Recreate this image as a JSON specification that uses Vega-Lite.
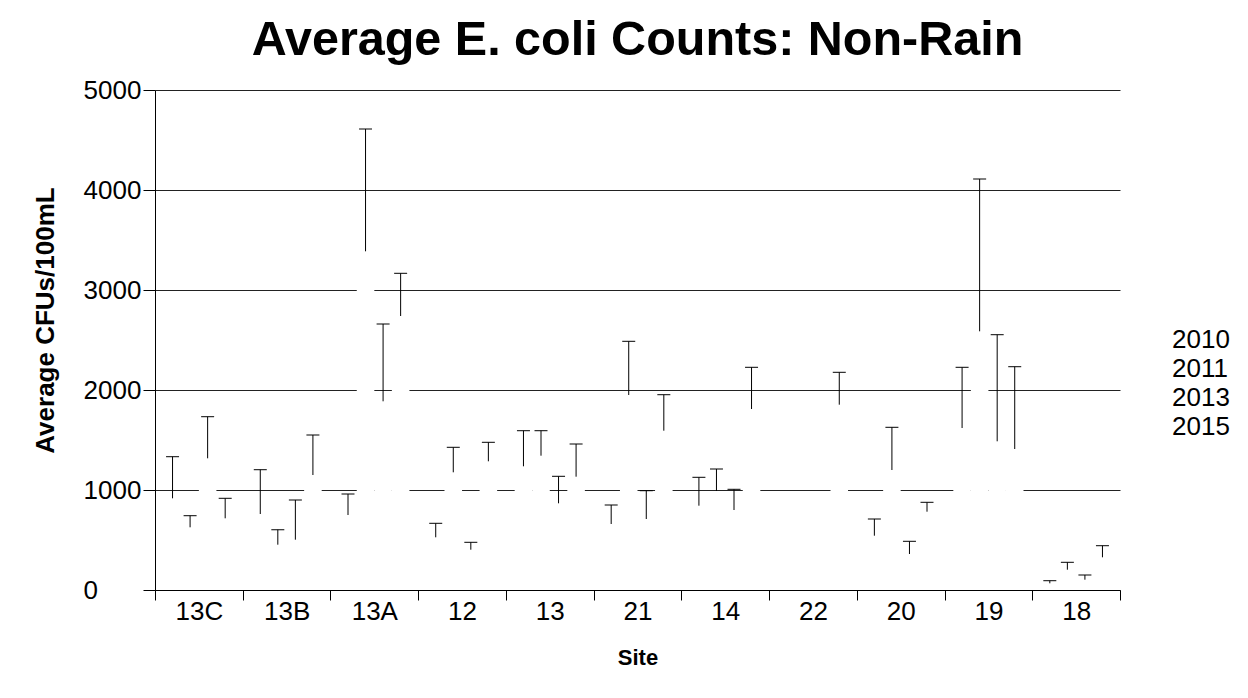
{
  "$schema": "https://vega.github.io/schema/vega-lite/v6.json",
  "width": 965,
  "height": 500,
  "autosize": {"type": "none"},
  "padding": {"left": 155, "top": 90, "right": 128, "bottom": 108},
  "background": "white",
  "config": {
    "view": {"stroke": null},
    "font": "Liberation Sans"
  },
  "title": {
    "text": "Average E. coli Counts: Non-Rain",
    "font": "Liberation Sans",
    "fontSize": 48.5,
    "fontWeight": "bold",
    "color": "black",
    "anchor": "middle",
    "offset": 12
  },
  "data": {
    "values": [
      {"site": "13C", "year": "2010", "lo": 917, "hi": 1333},
      {"site": "13C", "year": "2011", "lo": 627, "hi": 743},
      {"site": "13C", "year": "2013", "lo": 1317, "hi": 1733},
      {"site": "13C", "year": "2015", "lo": 717, "hi": 917},
      {"site": "13B", "year": "2010", "lo": 760, "hi": 1203},
      {"site": "13B", "year": "2011", "lo": 453, "hi": 603},
      {"site": "13B", "year": "2013", "lo": 503, "hi": 900},
      {"site": "13B", "year": "2015", "lo": 1150, "hi": 1550},
      {"site": "13A", "year": "2010", "lo": 750, "hi": 960},
      {"site": "13A", "year": "2011", "lo": 3387, "hi": 4610},
      {"site": "13A", "year": "2013", "lo": 1887, "hi": 2660},
      {"site": "13A", "year": "2015", "lo": 2740, "hi": 3167},
      {"site": "12", "year": "2010", "lo": 527, "hi": 667},
      {"site": "12", "year": "2011", "lo": 1177, "hi": 1427},
      {"site": "12", "year": "2013", "lo": 403, "hi": 477},
      {"site": "12", "year": "2015", "lo": 1287, "hi": 1477},
      {"site": "13", "year": "2010", "lo": 1237, "hi": 1593},
      {"site": "13", "year": "2011", "lo": 1343, "hi": 1593},
      {"site": "13", "year": "2013", "lo": 867, "hi": 1137},
      {"site": "13", "year": "2015", "lo": 1133, "hi": 1460},
      {"site": "21", "year": "2010", "lo": 660, "hi": 850},
      {"site": "21", "year": "2011", "lo": 1950, "hi": 2487},
      {"site": "21", "year": "2013", "lo": 710, "hi": 993},
      {"site": "21", "year": "2015", "lo": 1593, "hi": 1953},
      {"site": "14", "year": "2010", "lo": 843, "hi": 1127},
      {"site": "14", "year": "2011", "lo": 990, "hi": 1210},
      {"site": "14", "year": "2013", "lo": 800, "hi": 1007},
      {"site": "14", "year": "2015", "lo": 1810, "hi": 2227},
      {"site": "22", "year": "2015", "lo": 1853, "hi": 2177},
      {"site": "20", "year": "2010", "lo": 543, "hi": 710},
      {"site": "20", "year": "2011", "lo": 1200, "hi": 1627},
      {"site": "20", "year": "2013", "lo": 360, "hi": 487},
      {"site": "20", "year": "2015", "lo": 783, "hi": 877},
      {"site": "19", "year": "2010", "lo": 1620, "hi": 2227},
      {"site": "19", "year": "2011", "lo": 2587, "hi": 4110},
      {"site": "19", "year": "2013", "lo": 1487, "hi": 2553},
      {"site": "19", "year": "2015", "lo": 1410, "hi": 2233},
      {"site": "18", "year": "2010", "lo": 67, "hi": 93},
      {"site": "18", "year": "2011", "lo": 203, "hi": 277},
      {"site": "18", "year": "2013", "lo": 103, "hi": 150},
      {"site": "18", "year": "2015", "lo": 327, "hi": 443}
    ]
  },
  "encoding": {
    "x": {
      "field": "site",
      "type": "nominal",
      "scale": {
        "domain": ["13C", "13B", "13A", "12", "13", "21", "14", "22", "20", "19", "18"],
        "paddingInner": 0,
        "paddingOuter": 0
      },
      "axis": {
        "title": "Site",
        "tickBand": "extent",
        "labelAngle": 0,
        "grid": false,
        "tickSize": 10,
        "tickColor": "black",
        "domainColor": "black",
        "labelFont": "Liberation Sans",
        "labelFontSize": 26,
        "labelColor": "black",
        "labelPadding": -2,
        "titleFont": "Liberation Sans",
        "titleFontSize": 22,
        "titleFontWeight": "bold",
        "titleColor": "black",
        "titlePadding": 23
      }
    },
    "xOffset": {
      "field": "year",
      "type": "nominal",
      "scale": {"paddingInner": 0, "paddingOuter": 0.5}
    }
  },
  "layer": [
    {
      "mark": {"type": "bar", "stroke": null},
      "encoding": {
        "y": {
          "field": "lo",
          "type": "quantitative",
          "scale": {"domain": [0, 5000], "nice": false},
          "axis": {
            "title": "Average CFUs/100mL",
            "values": [0, 1000, 2000, 3000, 4000, 5000],
            "format": "d",
            "grid": true,
            "gridColor": "#222222",
            "gridOpacity": 1,
            "domainColor": "black",
            "tickColor": "black",
            "tickSize": 12,
            "labelFont": "Liberation Sans",
            "labelFontSize": 26,
            "labelColor": "black",
            "labelAlign": "left",
            "labelPadding": 60,
            "titleFont": "Liberation Sans",
            "titleFontSize": 26,
            "titleFontWeight": "bold",
            "titleColor": "black",
            "titlePadding": 25,
            "titleY": 230
          }
        },
        "color": {
          "field": "year",
          "type": "nominal",
          "scale": {"range": ["white", "white", "white", "white"]},
          "legend": {
            "title": null,
            "orient": "none",
            "legendX": 983,
            "legendY": 237,
            "padding": 0,
            "labelFont": "Liberation Sans",
            "labelFontSize": 26,
            "labelColor": "black",
            "labelOffset": 8,
            "rowPadding": 3,
            "symbolType": "square",
            "symbolSize": 196,
            "symbolStrokeColor": "white",
            "symbolStrokeWidth": 0
          }
        }
      }
    },
    {
      "mark": {"type": "rule", "color": "black", "strokeWidth": 1},
      "encoding": {
        "y": {"field": "lo", "type": "quantitative"},
        "y2": {"field": "hi"}
      }
    },
    {
      "mark": {"type": "tick", "color": "black", "size": 13, "thickness": 1, "opacity": 1},
      "encoding": {
        "y": {"field": "hi", "type": "quantitative"}
      }
    }
  ]
}
